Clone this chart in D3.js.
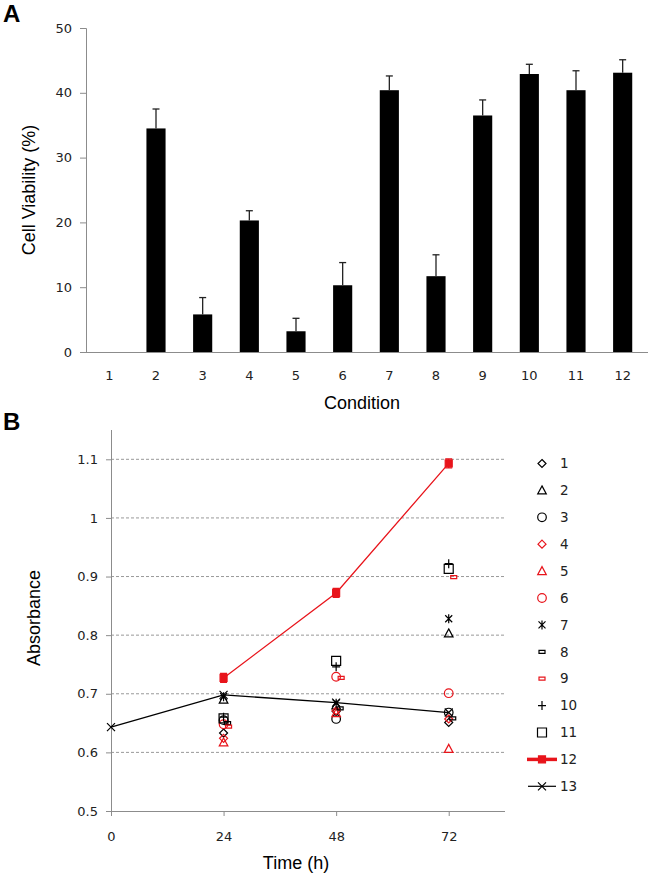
<!DOCTYPE html>
<html>
<head>
<meta charset="utf-8">
<script src="https://cdn.jsdelivr.net/npm/d3@7"></script>
<style>
  body { margin: 0; background: #fff; }
  svg { display: block; }
  .tick text { font-family: "DejaVu Sans", sans-serif; font-size: 13px; fill: #222; }
  .title { font-family: "Liberation Sans", Arial, sans-serif; font-size: 18px; fill: #000; }
  .panel { font-family: "Liberation Sans", Arial, sans-serif; font-size: 24px; font-weight: bold; }
</style>
</head>
<body>
<svg></svg>
<script>
var width = 650,
    height = 876;

// panel A data
var conditions   = ["1","2","3","4","5","6","7","8","9","10","11","12"];
var viability    = [0, 34.5, 5.8, 20.3, 3.2, 10.3, 40.4, 11.7, 36.5, 42.9, 40.4, 43.1];
var viabilityErr = [0, 3.0, 2.6, 1.5, 2.0, 3.5, 2.2, 3.3, 2.4, 1.5, 3.0, 2.0];
var ticksA       = [0, 10, 20, 30, 40, 50];

// panel B data
var times      = [0, 24, 48, 72];
var timesLater = [24, 48, 72];
var s1  = [0.633, 0.670, 0.651];
var s2  = [0.690, 0.680, 0.803];
var s3  = [0.655, 0.657, 0.668];
var s4  = [0.624, 0.671, 0.657];
var s5  = [0.617, 0.667, 0.606];
var s6  = [0.648, 0.729, 0.701];
var s7  = [0.695, 0.684, 0.828];
var s8  = [0.650, 0.675, 0.658];
var s9  = [0.644, 0.727, 0.899];
var s10 = [0.660, 0.746, 0.922];
var s11 = [0.658, 0.756, 0.913];
var s12 = [0.727, 0.872, 1.093];
var s13 = [0.643, 0.698, 0.685, 0.668];
var ticksB = [0.5, 0.6, 0.7, 0.8, 0.9, 1, 1.1];
var seriesNames = ["1","2","3","4","5","6","7","8","9","10","11","12","13"];

var red = "#e8141b", axisGrey = "#8c8c8c";

var svg = d3.select('svg')
  .attr("width", width)
  .attr("height", height);

// ---------- panel A ----------
var xA = d3.scaleBand().domain(conditions).range([86, 646]);
var yA = d3.scaleLinear().domain([0, 50]).range([352, 28]);
var gA = svg.append("g");

gA.append("g")
  .attr("transform", "translate(86,0)")
  .call(d3.axisLeft(yA).tickValues(ticksA).tickSize(6).tickPadding(8))
  .call(function(g) {
    g.select(".domain").attr("stroke", axisGrey);
    g.selectAll(".tick line").attr("stroke", axisGrey);
  });

gA.append("g")
  .attr("transform", "translate(0,352)")
  .call(d3.axisBottom(xA).tickSize(0).tickPadding(19))
  .call(function(g) {
    g.select(".domain").attr("stroke", axisGrey).attr("d", "M86,0.5H648");
  });

var bw = xA.bandwidth() * 0.41;
var bars = conditions.map(function(c, i) { return {c: c, v: viability[i], e: viabilityErr[i]}; });

gA.selectAll("rect.bar")
  .data(bars.filter(function(d) { return d.v > 0; }))
  .enter().append("rect")
    .attr("class", "bar")
    .attr("x", function(d) { return xA(d.c) + xA.bandwidth() / 2 - bw / 2; })
    .attr("y", function(d) { return yA(d.v); })
    .attr("width", bw)
    .attr("height", function(d) { return yA(0) - yA(d.v); })
    .attr("fill", "#000");

var err = gA.selectAll("g.err")
  .data(bars.filter(function(d) { return d.v > 0; }))
  .enter().append("g")
    .attr("class", "err")
    .attr("stroke", "#222")
    .attr("stroke-width", 1.3);
err.append("line")
  .attr("x1", function(d) { return xA(d.c) + xA.bandwidth() / 2; })
  .attr("x2", function(d) { return xA(d.c) + xA.bandwidth() / 2; })
  .attr("y1", function(d) { return yA(d.v); })
  .attr("y2", function(d) { return yA(d.v + d.e); });
err.append("line")
  .attr("x1", function(d) { return xA(d.c) + xA.bandwidth() / 2 - 3.5; })
  .attr("x2", function(d) { return xA(d.c) + xA.bandwidth() / 2 + 3.5; })
  .attr("y1", function(d) { return yA(d.v + d.e); })
  .attr("y2", function(d) { return yA(d.v + d.e); });

svg.append("text").attr("class", "title")
  .attr("transform", "translate(35,190) rotate(-90)")
  .attr("text-anchor", "middle")
  .text("Cell Viability (%)");
svg.append("text").attr("class", "title")
  .attr("x", 362).attr("y", 409)
  .attr("text-anchor", "middle")
  .text("Condition");
svg.append("text").attr("class", "panel").attr("x", 3).attr("y", 22).text("A");

// ---------- panel B ----------
var xB = d3.scaleLinear().domain([0, 84]).range([111, 505]);
var yB = d3.scaleLinear().domain([0.5, 1.15]).range([811, 430]);
var gB = svg.append("g");

gB.selectAll("line.grid")
  .data(ticksB.filter(function(t) { return t > 0.5; }))
  .enter().append("line")
    .attr("class", "grid")
    .attr("x1", 111).attr("x2", 505)
    .attr("y1", function(d) { return yB(d); })
    .attr("y2", function(d) { return yB(d); })
    .attr("stroke", "#999")
    .attr("stroke-dasharray", "3,2");

gB.append("g")
  .attr("transform", "translate(111,0)")
  .call(d3.axisLeft(yB).tickValues(ticksB).tickSize(5).tickPadding(8).tickFormat(d3.format("")))
  .call(function(g) {
    g.select(".domain").attr("stroke", axisGrey).attr("d", "M0.5,430V811.5");
    g.selectAll(".tick line").attr("stroke", axisGrey);
  });

gB.append("g")
  .attr("transform", "translate(0,811)")
  .call(d3.axisBottom(xB).tickValues(times).tickSize(5).tickPadding(16))
  .call(function(g) {
    g.select(".domain").attr("stroke", axisGrey).attr("d", "M111,0.5H505");
    g.selectAll(".tick line").attr("stroke", axisGrey);
  });

svg.append("text").attr("class", "title")
  .attr("transform", "translate(40,618) rotate(-90)")
  .attr("text-anchor", "middle")
  .text("Absorbance");
svg.append("text").attr("class", "title")
  .attr("x", 296).attr("y", 869)
  .attr("text-anchor", "middle")
  .text("Time (h)");
svg.append("text").attr("class", "panel").attr("x", 3).attr("y", 430).text("B");

// marker shapes
var shapes = {
  diamond:  "M0,-4L4,0L0,4L-4,0Z",
  triangle: "M0,-4.5L4.3,3.5L-4.3,3.5Z",
  circle:   "M4.3,0A4.3,4.3 0 1,1 -4.3,0A4.3,4.3 0 1,1 4.3,0Z",
  square:   "M-4.5,-4.5h9v9h-9Z",
  dash:     "M-3,-1.5h6v3h-6Z",
  plus:     "M-4,0h8M0,-4.5v9",
  xmark:    "M-4,-4L4,4M4,-4L-4,4",
  star:     "M-3.5,-3.5L3.5,3.5M3.5,-3.5L-3.5,3.5M0,-4.5v9",
  filled:   "M-3.5,-3.5h7v7h-7Z"
};
var markerType  = ["diamond","triangle","circle","diamond","triangle","circle","star","dash","dash","plus","square","filled","xmark"];
var markerColor = ["#000","#000","#000",red,red,red,"#000","#000",red,"#000","#000",red,"#000"];
var markerDx    = [0,0,0,0,0,0,0,4,5,0,0,0,0];

function marker(g, k) {
  var p = g.append("path")
    .attr("d", shapes[markerType[k]])
    .attr("stroke", markerColor[k])
    .attr("stroke-width", 1.2)
    .attr("fill", "none");
  if (markerType[k] == "filled") p.attr("fill", markerColor[k]);
  return p;
}

var scatterSeries = [s1, s2, s3, s4, s5, s6, s7, s8, s9, s10, s11];

// lines 12 and 13
var line = d3.line()
  .x(function(d) { return xB(d[0]); })
  .y(function(d) { return yB(d[1]); });

gB.append("path")
  .datum(d3.zip(timesLater, s12))
  .attr("d", line).attr("fill", "none")
  .attr("stroke", red).attr("stroke-width", 1.3);
gB.append("path")
  .datum(d3.zip(times, s13))
  .attr("d", line).attr("fill", "none")
  .attr("stroke", "#000").attr("stroke-width", 1.3);

scatterSeries.forEach(function(s, k) {
  s.forEach(function(v, i) {
    var g = gB.append("g")
      .attr("transform", "translate(" + (xB(timesLater[i]) + markerDx[k]) + "," + yB(v) + ")");
    marker(g, k);
  });
});
s12.forEach(function(v, i) {
  var g = gB.append("g").attr("transform", "translate(" + xB(timesLater[i]) + "," + yB(v) + ")");
  g.append("path").attr("d", "M-3.5,-4.5h7M-3.5,4.5h7M0,-4.5v9").attr("stroke", red).attr("stroke-width", 1.2);
  marker(g, 11);
});
s13.forEach(function(v, i) {
  var g = gB.append("g").attr("transform", "translate(" + xB(times[i]) + "," + yB(v) + ")");
  marker(g, 12);
});

// legend
var legend = svg.append("g").attr("transform", "translate(542,0)");
seriesNames.forEach(function(name, k) {
  var y = 463.5 + k * 26.9;
  var g = legend.append("g").attr("transform", "translate(0," + y + ")");
  if (k == 11) {
    g.append("line").attr("x1", -15).attr("x2", 15).attr("stroke", red).attr("stroke-width", 3.5);
  }
  if (k == 12) {
    g.append("line").attr("x1", -14).attr("x2", 14).attr("stroke", "#000").attr("stroke-width", 1.2);
  }
  marker(g, k);
  g.append("text")
    .attr("x", 18).attr("dy", "0.35em")
    .style("font-family", "DejaVu Sans, sans-serif")
    .style("font-size", "13.5px")
    .attr("fill", "#222")
    .text(name);
});
</script>
</body>
</html>
